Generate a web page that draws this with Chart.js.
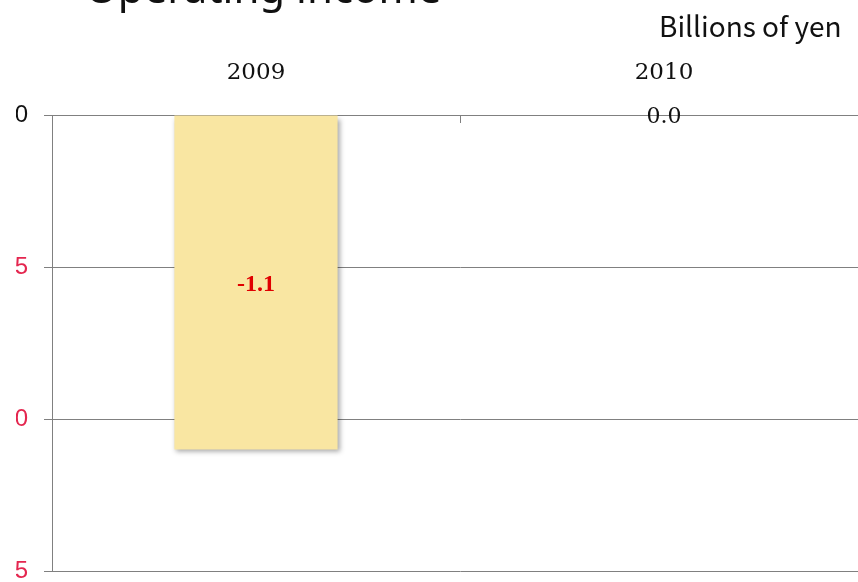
<!DOCTYPE html>
<html>
<head>
<meta charset="utf-8">
<script src="https://cdn.jsdelivr.net/npm/chart.js@4/dist/chart.umd.min.js"></script>
<style>
  html, body { margin: 0; padding: 0; width: 858px; height: 582px; overflow: hidden; background: #ffffff; }
  #wrap { position: absolute; left: -40px; top: 0; width: 908px; height: 582px; }
  #edge { position: absolute; left: 0; top: 0; width: 16px; height: 582px; background: #ffffff; }
  #title { position: absolute; left: 85px; top: -34px; font-family: "Noto Sans", sans-serif; font-size: 42px; line-height: 42px; color: #111; white-space: nowrap; }
  #unit { position: absolute; left: 659px; top: 9px; font-family: "Noto Sans CJK JP", "Noto Sans", sans-serif; font-size: 28px; line-height: 32px; color: #111; white-space: nowrap; }
</style>
</head>
<body>
<div id="wrap"><canvas id="c"></canvas></div>
<div id="edge"></div>
<div id="title">Operating income</div>
<div id="unit">Billions of yen</div>
<script>
const categories = ["2009", "2010"];
const operatingIncome = [-1.1, 0.0];
const yTicks = [0.0, -0.5, -1.0, -1.5];
const unitLabel = "Billions of yen";

const valueLabels = {
  id: 'valueLabels',
  afterDatasetsDraw(chart) {
    const ctx = chart.ctx;
    const meta = chart.getDatasetMeta(0);
    meta.data.forEach((el, i) => {
      const v = chart.data.datasets[0].data[i];
      const y = (el.y + el.base) / 2;
      ctx.save();
      ctx.textAlign = 'center';
      ctx.textBaseline = 'middle';
      if (v < 0) {
        ctx.fillStyle = '#e00000';
        ctx.font = 'bold 24px "Liberation Serif", serif';
      } else {
        ctx.fillStyle = '#111111';
        ctx.font = '22px "DejaVu Serif", serif';
      }
      ctx.fillText(v.toFixed(1), el.x, y + 2);
      ctx.restore();
    });
  }
};

const barShadow = {
  id: 'barShadow',
  beforeDatasetsDraw(chart) {
    const ctx = chart.ctx;
    ctx.save();
    ctx.shadowColor = 'rgba(0,0,0,0.35)';
    ctx.shadowBlur = 5;
    ctx.shadowOffsetX = 2;
    ctx.shadowOffsetY = 3;
  },
  afterDatasetsDraw(chart) {
    chart.ctx.restore();
  }
};

const catTicks = {
  id: 'catTicks',
  afterDraw(chart) {
    const xs = chart.scales.x;
    const ctx = chart.ctx;
    const top = chart.chartArea.top;
    ctx.save();
    ctx.strokeStyle = '#808080';
    ctx.lineWidth = 1;
    for (let i = 0; i < categories.length - 1; i++) {
      const px = Math.round((xs.getPixelForValue(i) + xs.getPixelForValue(i + 1)) / 2) + 0.5;
      ctx.beginPath();
      ctx.moveTo(px, top);
      ctx.lineTo(px, top + 8);
      ctx.stroke();
    }
    ctx.restore();
  }
};

new Chart(document.getElementById('c'), {
  type: 'bar',
  data: {
    labels: categories,
    datasets: [{
      label: 'Operating income',
      data: operatingIncome,
      backgroundColor: '#f9e6a2',
      borderWidth: 0,
      categoryPercentage: 1.0,
      barPercentage: 0.4
    }]
  },
  options: {
    responsive: true,
    maintainAspectRatio: false,
    animation: false,
    layout: { padding: { left: 0, right: 0, top: 0, bottom: 11 } },
    plugins: {
      legend: { display: false },
      tooltip: { enabled: false },
      title: { display: false }
    },
    scales: {
      x: {
        position: 'top',
        grid: { display: false, drawTicks: false },
        border: { display: false },
        ticks: {
          color: '#111111',
          font: { family: '"DejaVu Serif", serif', size: 23 },
          padding: 28,
          maxRotation: 0
        },
        afterFit(scale) { scale.height = 115; scale.paddingLeft = 0; scale.paddingRight = 0; }
      },
      y: {
        min: -1.5,
        max: 0,
        grid: { color: '#808080', lineWidth: 1, tickLength: 8, drawTicks: true },
        border: { display: true, color: '#808080', width: 1 },
        afterBuildTicks(scale) { scale.ticks = yTicks.map(v => ({ value: v })); },
        ticks: {
          padding: 16,
          font: { family: '"Liberation Sans", sans-serif', size: 24 },
          color: (ctx) => (ctx.tick && ctx.tick.value < 0) ? '#e4264f' : '#111111',
          callback: (v) => Number(v).toFixed(1)
        },
        afterFit(scale) { scale.width = 92; scale.paddingTop = 0; scale.paddingBottom = 0; }
      }
    }
  },
  plugins: [barShadow, valueLabels, catTicks]
});
</script>
</body>
</html>
